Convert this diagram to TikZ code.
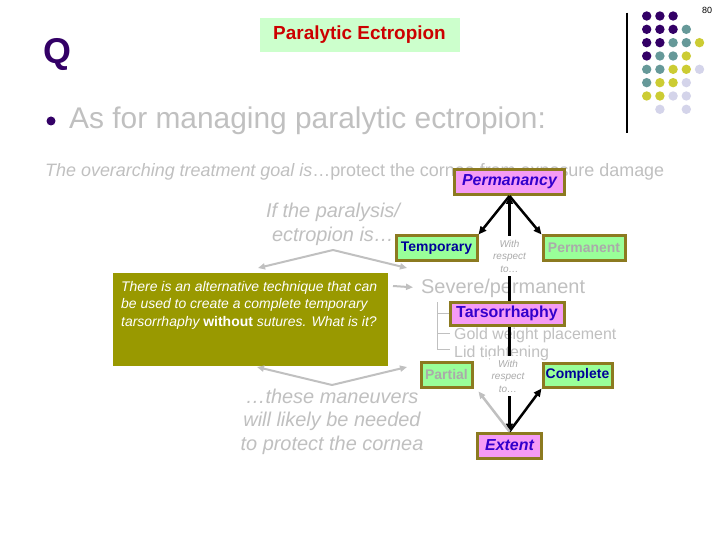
\documentclass[tikz,border=0pt]{standalone}
\usepackage{fontspec}
\setmainfont{Liberation Sans}
\usetikzlibrary{arrows.meta}

\definecolor{qpurple}{RGB}{51,0,102}
\definecolor{softgray}{RGB}{192,192,192}
\definecolor{labelgray}{RGB}{170,170,170}
\definecolor{olivebox}{RGB}{153,153,0}
\definecolor{boxrim}{RGB}{140,122,32}
\definecolor{pinkfill}{RGB}{245,155,245}
\definecolor{greenfill}{RGB}{153,255,153}
\definecolor{titlefill}{RGB}{204,255,204}
\definecolor{titlered}{RGB}{204,0,0}
\definecolor{bluetext}{RGB}{51,0,204}
\definecolor{navytext}{RGB}{0,0,153}
\definecolor{dotteal}{RGB}{102,153,153}
\definecolor{dotyellow}{RGB}{204,204,51}
\definecolor{dotlilac}{RGB}{212,212,234}

\begin{document}
\begin{tikzpicture}[x=1bp, y=-1bp,
  pinkbox/.style={draw=boxrim, line width=3bp, fill=pinkfill, inner sep=0pt, text=bluetext},
  greenbox/.style={draw=boxrim, line width=3bp, fill=greenfill, inner sep=0pt, font=\bfseries\fontsize{14}{17}\selectfont},
  grayarrow/.style={draw=softgray, line width=2bp, -{Triangle[length=7bp,width=6bp]}},
  blackarrow/.style={line width=2.5bp, -{Triangle[length=8bp,width=7bp]}},
  wrt/.style={fill=white, text=labelgray, align=center, inner xsep=2bp, inner ysep=4bp, font=\itshape\fontsize{10}{12.5}\selectfont},
  plain/.style={inner sep=0pt, text=softgray}]
  \fill[white] (0,0) rectangle (720,540);
  \useasboundingbox (0,0) rectangle (720,540);

  % corner decoration
  \draw[line width=1.2bp] (627,12.7) -- (627,132.7);
  \foreach \c/\r/\col in {0/0/qpurple, 1/0/qpurple, 2/0/qpurple,
      0/1/qpurple, 1/1/qpurple, 2/1/qpurple, 3/1/dotteal,
      0/2/qpurple, 1/2/qpurple, 2/2/dotteal, 3/2/dotteal, 4/2/dotyellow,
      0/3/qpurple, 1/3/dotteal, 2/3/dotteal, 3/3/dotyellow,
      0/4/dotteal, 1/4/dotteal, 2/4/dotyellow, 3/4/dotyellow, 4/4/dotlilac,
      0/5/dotteal, 1/5/dotyellow, 2/5/dotyellow, 3/5/dotlilac,
      0/6/dotyellow, 1/6/dotyellow, 2/6/dotlilac, 3/6/dotlilac,
      1/7/dotlilac, 3/7/dotlilac}
    \fill[\col] (646.7+13.2*\c, 16+13.33*\r) circle (4.7bp);
  \node[font=\fontsize{9}{10}\selectfont] (pagenum) at (707,10) {80};

  \node[anchor=base west, inner sep=0pt, text=qpurple, font=\bfseries\fontsize{36}{40}\selectfont] (qmark) at (43,64) {Q};
  \node[fill=titlefill, minimum width=200bp, minimum height=34bp, text=titlered,
    font=\bfseries\fontsize{19}{22}\selectfont] (title) at (359.5,35) {Paralytic Ectropion};
  \node[circle, fill=qpurple, inner sep=0pt, minimum size=9bp] (bullet) at (51,121) {};
  \node[plain, anchor=base west, font=\fontsize{30}{36}\selectfont] (intro) at (69,129) {As for managing paralytic ectropion:};
  \node[plain, anchor=base west, font=\fontsize{18}{22}\selectfont] (goal) at (45,176.5)
    {\itshape The overarching treatment goal is\upshape…protect the cornea from exposure damage};

  % permanancy branch
  \node[pinkbox, minimum width=110bp, minimum height=25bp, font=\bfseries\itshape\fontsize{16}{19}\selectfont] (perm) at (509.5,182) {Permanancy};
  \node[greenbox, minimum width=81bp, minimum height=24bp, text=navytext] (temp) at (436.5,248) {Temporary};
  \node[greenbox, minimum width=82bp, minimum height=24bp, text=labelgray] (permt) at (584,248) {Permanent};
  \node[plain, align=center, font=\itshape\fontsize{20}{24}\selectfont] (ifpara) at (333,224) {If the paralysis/\\ectropion is…};
  \coordinate (upapex) at (333,250);
  \coordinate (upleft) at (258,268);
  \coordinate (upright) at (407,268);
  \draw[grayarrow] (upapex) -- (upleft);
  \draw[grayarrow] (upapex) -- (upright);

  % severe / permanent options
  \node[plain, anchor=base west, font=\fontsize{20}{24}\selectfont] (severe) at (421,293) {Severe/permanent};
  \node[plain, anchor=base west, font=\fontsize{16}{19}\selectfont] (gold) at (454,339) {Gold weight placement};
  \node[plain, anchor=base west, font=\fontsize{16}{19}\selectfont] (lid) at (454,357.5) {Lid tightening};
  \draw[softgray, line width=1bp] (437.5,302) -- (437.5,349) -- (450,349)
    (437.5,313) -- (450,313) (437.5,333) -- (450,333);
  \coordinate (sevtail) at (393,286);
  \draw[grayarrow, shorten >=8bp] (sevtail) -- (severe.west);

  % extent branch
  \node[greenbox, minimum width=51bp, minimum height=25bp, text=labelgray] (partial) at (446.5,374.5) {Partial};
  \node[greenbox, minimum width=69bp, minimum height=24bp, text=navytext] (complete) at (577.5,375) {Complete};
  \node[pinkbox, minimum width=64bp, minimum height=25bp, font=\bfseries\itshape\fontsize{16}{19}\selectfont] (extent) at (509.5,445.5) {Extent};

  \draw[line width=3bp, {Triangle[length=8bp,width=7bp]}-{Triangle[length=8bp,width=7bp]}] (perm.south) -- (extent.north);
  \draw[blackarrow] (perm.south) -- (temp.north east);
  \draw[blackarrow] (perm.south) -- (permt.north west);
  \draw[blackarrow] (extent.north) -- (complete.south west);
  \draw[grayarrow, line width=2.5bp] (extent.north) -- ([xshift=5bp, yshift=-3bp]partial.south east);
  \node[pinkbox, minimum width=114bp, minimum height=23bp, font=\bfseries\fontsize{16}{19}\selectfont] (tars) at (507,313.5) {Tarsorrhaphy};
  \node[wrt] (wrtone) at (509.5,256) {With\\respect\\to…};
  \node[wrt] (wrttwo) at (508,376) {With\\respect\\to…};

  % question box
  \node[fill=olivebox, minimum width=275bp, minimum height=92bp] (question) at (250,319.5) {};
  \node[anchor=north west, inner sep=0pt, align=left, text=white, font=\itshape\fontsize{14}{17.5}\selectfont] (qtext) at (121,281)
    {There is an alternative technique that can\\be used to create a complete temporary\\tarsorrhaphy \upshape\bfseries without\mdseries\itshape{} sutures. What is it?};

  \node[plain, align=center, font=\itshape\fontsize{20}{23.5}\selectfont] (maneuvers) at (332,421.5) {…these maneuvers\\will likely be needed\\to protect the cornea};
  \coordinate (lowapex) at (332,385);
  \coordinate (lowleft) at (257,367);
  \coordinate (lowright) at (407,367);
  \draw[grayarrow] (lowapex) -- (lowleft);
  \draw[grayarrow] (lowapex) -- (lowright);
\end{tikzpicture}
\end{document}
